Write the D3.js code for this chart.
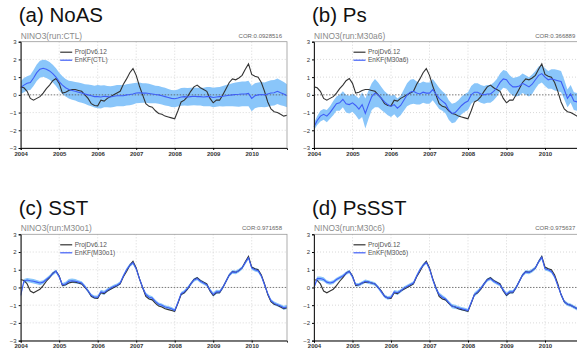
<!DOCTYPE html>
<html>
<head>
<meta charset="utf-8">
<script src="https://cdn.jsdelivr.net/npm/d3@7"></script>
<style>
  body { margin: 0; background: #fff; }
  svg { display: block; font-family: "Liberation Sans", Arial, sans-serif; }
</style>
</head>
<body>
<svg id="root" width="577" height="349"></svg>
<script>
// monthly values, Jan 2004 .. Dec 2010
const startYear = 2004;
const yearTicks = [2004, 2005, 2006, 2007, 2008, 2009, 2010];
const valueTicks = [-3, -2, -1, 0, 1, 2, 3];

const panelTitles = ["(a) NoAS", "(b) Ps", "(c) SST", "(d) PsSST"];
const runNames = ["CTL", "M30a6", "M30o1", "M30c6"];
const corValues = ["0.0928516", "0.366889", "0.971658", "0.975637"];
const obsName = "ProjDv6.12";

const obs = [
  0.45, 0.40, 0.20, -0.20, -0.30, -0.20, -0.10, 0.10, 0.35, 0.55, 0.80, 0.92,
  0.65, 0.10, 0.15, 0.25, 0.30, 0.30, 0.25, 0.20, 0.00, -0.20, -0.50, -0.60,
  -0.62, -0.30, -0.35, -0.20, -0.10, 0.00, 0.10, 0.20, 0.60, 0.90, 1.25, 1.48,
  1.10, 0.50, 0.00, -0.50, -0.65, -0.70, -0.90, -1.05, -1.10, -1.20, -1.25, -1.30,
  -1.35, -0.90, -0.40, -0.30, -0.10, 0.20, 0.45, 0.55, 0.40, 0.30, 0.20, -0.20,
  -0.45, -0.30, -0.30, 0.00, 0.35, 0.70, 0.90, 0.85, 0.95, 1.10, 1.45, 1.75,
  1.15, 1.05, 1.00, 0.70, 0.20, -0.40, -0.80, -0.95, -1.00, -1.10, -1.20, -1.15
];

const meanA = [
  0.40, 0.55, 0.65, 0.70, 0.95, 1.25, 1.45, 1.50, 1.45, 1.35, 1.20, 1.00,
  0.75, 0.55, 0.40, 0.30, 0.25, 0.20, 0.15, 0.10, 0.05, 0.00, -0.05, -0.10,
  -0.10, -0.12, -0.08, -0.10, -0.12, -0.08, -0.05, -0.05, -0.05, 0.00, 0.02, 0.05,
  0.10, 0.12, 0.10, 0.10, 0.08, 0.05, 0.02, 0.00, -0.05, -0.10, -0.15, -0.20,
  -0.22, -0.18, -0.12, -0.10, -0.12, -0.10, -0.08, -0.10, -0.10, -0.12, -0.10, -0.10,
  -0.15, -0.12, -0.10, -0.08, -0.05, -0.02, 0.00, 0.02, 0.03, 0.05, 0.05, 0.08,
  -0.20, -0.05, 0.00, 0.02, 0.00, 0.05, 0.10, 0.12, 0.20, 0.12, 0.05, -0.05
];
const spreadA = [
  0.35, 0.40, 0.40, 0.42, 0.45, 0.47, 0.48, 0.48, 0.50, 0.50, 0.50, 0.50,
  0.50, 0.50, 0.50, 0.50, 0.52, 0.52, 0.55, 0.55, 0.55, 0.58, 0.60, 0.62,
  0.65, 0.65, 0.62, 0.60, 0.60, 0.60, 0.60, 0.60, 0.60, 0.60, 0.60, 0.60,
  0.58, 0.58, 0.55, 0.55, 0.55, 0.52, 0.50, 0.50, 0.50, 0.50, 0.48, 0.48,
  0.48, 0.48, 0.50, 0.50, 0.50, 0.50, 0.50, 0.50, 0.50, 0.52, 0.55, 0.55,
  0.55, 0.55, 0.55, 0.58, 0.60, 0.62, 0.65, 0.68, 0.70, 0.70, 0.70, 0.72,
  0.72, 0.70, 0.70, 0.70, 0.70, 0.72, 0.72, 0.72, 0.72, 0.70, 0.68, 0.65
];

const meanB = [
  -1.80, -1.45, -1.20, -1.10, -1.20, -1.00, -0.75, -0.50, -0.45, -0.25, -0.50, -0.55,
  -0.45, -0.60, -0.80, -0.55, -1.05, -0.55, -0.10, 0.10, 0.00, -0.20, -0.40, -0.55,
  -0.65, -0.55, -0.75, -0.60, -0.30, 0.00, 0.15, 0.20, 0.10, 0.05, 0.15, 0.10,
  0.10, 0.30, 0.05, -0.20, -0.35, -0.50, -0.85, -1.05, -1.00, -0.80, -0.60, -0.45,
  -0.35, 0.00, 0.15, 0.15, 0.05, 0.00, 0.05, 0.05, 0.20, 0.40, 0.70, 0.90,
  0.85, 0.60, 0.45, 0.45, 0.50, 0.65, 0.55, 0.45, 0.60, 0.85, 1.10, 1.20,
  1.00, 0.85, 0.90, 0.85, 0.80, 0.75, 0.30, -0.20, 0.05, -0.35, -0.40, -0.40
];
const spreadB = [
  0.20, 0.25, 0.30, 0.30, 0.35, 0.35, 0.40, 0.40, 0.45, 0.45, 0.50, 0.50,
  0.50, 0.55, 0.60, 0.70, 0.85, 0.80, 0.75, 0.80, 0.70, 0.65, 0.60, 0.60,
  0.60, 0.55, 0.55, 0.55, 0.60, 0.65, 0.70, 0.70, 0.65, 0.60, 0.60, 0.60,
  0.60, 0.60, 0.60, 0.60, 0.55, 0.55, 0.55, 0.55, 0.55, 0.50, 0.50, 0.50,
  0.50, 0.50, 0.50, 0.50, 0.50, 0.50, 0.50, 0.50, 0.50, 0.50, 0.50, 0.50,
  0.50, 0.50, 0.50, 0.55, 0.55, 0.55, 0.55, 0.55, 0.55, 0.50, 0.50, 0.50,
  0.50, 0.50, 0.55, 0.60, 0.60, 0.60, 0.55, 0.50, 0.50, 0.50, 0.50, 0.50
];

const meanC = [
  -0.45, 0.35, 0.42, 0.38, 0.35, 0.30, 0.25, 0.30, 0.45, 0.60, 0.78, 0.92,
  0.60, 0.15, 0.20, 0.35, 0.38, 0.35, 0.30, 0.25, 0.05, -0.20, -0.45, -0.55,
  -0.55, -0.25, -0.30, -0.15, -0.05, 0.05, 0.12, 0.25, 0.65, 1.00, 1.25, 1.40,
  1.05, 0.50, 0.00, -0.40, -0.55, -0.60, -0.80, -0.95, -1.00, -1.10, -1.15, -1.20,
  -1.30, -0.85, -0.35, -0.25, -0.05, 0.20, 0.42, 0.50, 0.35, 0.25, 0.15, -0.15,
  -0.40, -0.25, -0.25, 0.00, 0.35, 0.70, 0.88, 0.85, 0.95, 1.10, 1.40, 1.68,
  1.10, 1.00, 0.95, 0.65, 0.15, -0.35, -0.75, -0.90, -0.98, -1.05, -1.15, -1.10
];
const spreadC = [
  0.10, 0.12, 0.12, 0.12, 0.12, 0.12, 0.12, 0.10, 0.10, 0.10, 0.10, 0.10,
  0.10, 0.10, 0.12, 0.12, 0.12, 0.12, 0.10, 0.10, 0.10, 0.10, 0.10, 0.10,
  0.10, 0.12, 0.12, 0.10, 0.10, 0.10, 0.10, 0.10, 0.10, 0.10, 0.10, 0.10,
  0.10, 0.10, 0.10, 0.12, 0.12, 0.10, 0.10, 0.10, 0.10, 0.10, 0.10, 0.10,
  0.10, 0.10, 0.10, 0.10, 0.10, 0.10, 0.10, 0.10, 0.10, 0.10, 0.10, 0.10,
  0.12, 0.12, 0.10, 0.10, 0.10, 0.10, 0.10, 0.10, 0.10, 0.10, 0.10, 0.10,
  0.10, 0.10, 0.10, 0.10, 0.10, 0.10, 0.10, 0.10, 0.10, 0.10, 0.12, 0.12
];

const meanD = [
  0.00, 0.50, 0.50, 0.45, 0.30, 0.25, 0.30, 0.45, 0.55, 0.65, 0.80, 0.90,
  0.60, 0.15, 0.15, 0.25, 0.35, 0.30, 0.25, 0.20, 0.00, -0.25, -0.50, -0.60,
  -0.55, -0.25, -0.30, -0.20, -0.05, 0.05, 0.15, 0.25, 0.65, 1.00, 1.25, 1.42,
  1.05, 0.45, -0.05, -0.40, -0.55, -0.65, -0.85, -1.05, -1.10, -1.15, -1.20, -1.25,
  -1.30, -0.85, -0.40, -0.25, -0.05, 0.20, 0.42, 0.50, 0.35, 0.25, 0.15, -0.15,
  -0.40, -0.25, -0.25, 0.00, 0.35, 0.70, 0.88, 0.85, 0.95, 1.10, 1.45, 1.70,
  1.05, 1.00, 0.90, 0.60, 0.10, -0.40, -0.80, -0.95, -1.00, -1.10, -1.20, -1.15
];
const spreadD = [
  0.10, 0.12, 0.12, 0.12, 0.10, 0.10, 0.10, 0.10, 0.10, 0.10, 0.10, 0.10,
  0.10, 0.10, 0.10, 0.10, 0.10, 0.10, 0.10, 0.10, 0.10, 0.10, 0.10, 0.10,
  0.10, 0.10, 0.12, 0.10, 0.10, 0.10, 0.10, 0.10, 0.10, 0.10, 0.10, 0.10,
  0.10, 0.10, 0.12, 0.12, 0.12, 0.10, 0.10, 0.12, 0.12, 0.10, 0.10, 0.10,
  0.10, 0.10, 0.12, 0.12, 0.10, 0.10, 0.10, 0.10, 0.10, 0.10, 0.10, 0.10,
  0.12, 0.10, 0.10, 0.10, 0.10, 0.10, 0.10, 0.10, 0.10, 0.10, 0.10, 0.12,
  0.10, 0.10, 0.10, 0.10, 0.10, 0.10, 0.10, 0.10, 0.10, 0.10, 0.10, 0.10
];

const means = [meanA, meanB, meanC, meanD];
const spreads = [spreadA, spreadB, spreadC, spreadD];

const svg = d3.select("#root");

const plotW = 266.3, plotH = 106.3;
const origins = [[20.7, 41.7], [314, 41.7], [20.7, 234.3], [314, 234.3]];

const x = d3.scaleLinear().domain([startYear, startYear + 83 / 12]).range([0, plotW]);
const y = d3.scaleLinear().domain([-3, 3]).range([plotH, 0]);

const t = (d, i) => x(startYear + i / 12);

function drawPanel(k) {
    const [ox, oy] = origins[k];
    const mean = means[k], spread = spreads[k];

    svg.append("text")
        .attr("x", ox - 2)
        .attr("y", oy - 19.5)
        .attr("font-size", 20.5)
        .attr("fill", "#111")
        .text(panelTitles[k]);

    const g = svg.append("g").attr("transform", `translate(${ox},${oy})`);

    g.append("text")
        .attr("x", 0).attr("y", -3)
        .attr("font-size", 8.4)
        .attr("fill", "#8a8a8a")
        .text(`NINO3(run:${runNames[k]})`);

    g.append("text")
        .attr("x", plotW - 5).attr("y", -4)
        .attr("text-anchor", "end")
        .attr("font-size", 6)
        .attr("fill", "#666")
        .text(`COR:${corValues[k]}`);

    // grid
    g.selectAll(".vgrid")
        .data(yearTicks.slice(1))
        .enter().append("line")
        .attr("x1", d => x(d)).attr("x2", d => x(d))
        .attr("y1", 0).attr("y2", plotH)
        .attr("stroke", "#cfcfcf").attr("stroke-width", 0.8)
        .attr("stroke-dasharray", "1,2");

    g.selectAll(".hgrid")
        .data(valueTicks.filter(v => v !== 0 && Math.abs(v) < 3))
        .enter().append("line")
        .attr("x1", 0).attr("x2", plotW)
        .attr("y1", d => y(d)).attr("y2", d => y(d))
        .attr("stroke", "#cfcfcf").attr("stroke-width", 0.8)
        .attr("stroke-dasharray", "1,2");

    // ensemble spread
    g.append("path")
        .attr("fill", "#8ac6fa")
        .attr("d", d3.area()
            .x(t)
            .y0((d, i) => y(d - spread[i]))
            .y1((d, i) => y(d + spread[i]))(mean));

    // zero line
    g.append("line")
        .attr("x1", 0).attr("x2", plotW)
        .attr("y1", y(0)).attr("y2", y(0))
        .attr("stroke", "#555").attr("stroke-width", 0.8)
        .attr("stroke-dasharray", "1.5,1.5");

    // observed
    g.append("path")
        .attr("fill", "none")
        .attr("stroke", "#333")
        .attr("stroke-width", 1.1)
        .attr("d", d3.line().x(t).y(d => y(d))(obs));

    // ensemble mean
    g.append("path")
        .attr("fill", "none")
        .attr("stroke", "#3f5ef7")
        .attr("stroke-width", 1.1)
        .attr("d", d3.line().x(t).y(d => y(d))(mean));

    // frame
    g.append("rect")
        .attr("width", plotW).attr("height", plotH)
        .attr("fill", "none")
        .attr("stroke", "#9a9a9a").attr("stroke-width", 0.8);

    const yAxis = g.append("g")
        .call(d3.axisLeft(y).tickValues(valueTicks).tickSize(2).tickPadding(2).tickFormat(d3.format("d")));
    yAxis.select(".domain").attr("stroke", "#222");
    yAxis.selectAll("text").attr("font-size", 6).attr("fill", "#333").attr("font-family", "Liberation Sans, Arial, sans-serif");

    const xAxis = g.append("g")
        .attr("transform", `translate(0,${plotH})`)
        .call(d3.axisBottom(x).tickValues(yearTicks).tickSize(2).tickPadding(1.5).tickFormat(d3.format("d")));
    xAxis.select(".domain").attr("stroke", "#222");
    xAxis.selectAll("text").attr("font-size", 6).attr("font-weight", "bold").attr("fill", "#333")
        .attr("font-family", "Liberation Sans, Arial, sans-serif");

    // legend
    const legend = g.append("g").attr("transform", "translate(39.5,10.5)");
    const items = [[obsName, "#333"], [`EnKF(${runNames[k]})`, "#3f5ef7"]];
    items.forEach(([label, color], i) => {
        legend.append("line")
            .attr("x1", 0).attr("x2", 12)
            .attr("y1", i * 8).attr("y2", i * 8)
            .attr("stroke", color).attr("stroke-width", 1.2);
        legend.append("text")
            .attr("x", 14.5).attr("y", i * 8 + 2.2)
            .attr("font-size", 6.5).attr("fill", "#555")
            .text(label);
    });
}

for (let k = 0; k < 4; k++) drawPanel(k);
</script>
</body>
</html>
